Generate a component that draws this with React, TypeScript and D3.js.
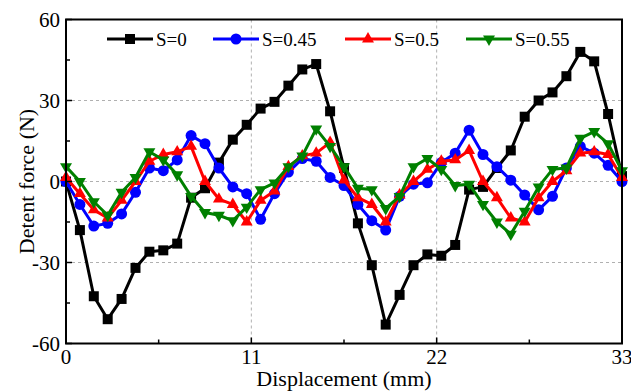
import React from 'react';
import * as d3 from 'd3';

// displacement step (mm) between samples, 41 samples over 0..33
const step = 0.825;
const sLabels = ['S=0', 'S=0.45', 'S=0.5', 'S=0.55'];
const sColors = ['#000000', '#0000ff', '#ff0000', '#008000'];
const sMarkers = ['square', 'circle', 'triangle', 'triangleDown'];

const s0 = [0, -18, -42.5, -51, -43.5, -32, -26, -25.5, -23, -6, -2.5, 7, 15.5, 21, 27, 29.5, 35.5, 41.5, 43.5, 26,
    5, -15.5, -31, -53, -42, -31, -27, -27.5, -23.5, -3, -2, 5, 11.5, 24, 30, 33, 39, 48, 44.5, 25, 2];
const s045 = [0, -8.5, -16.5, -15.5, -12, -4, 5, 4, 8, 17, 14, 5, -2, -4.5, -14, -4.5, 3.5, 8.5, 7.5, 1.5,
    -1.5, -8.5, -14.5, -18, -5.5, -1, -0.5, 7, 10.5, 19, 10, 5.5, 0.5, -5, -10.5, -5.5, 5, 13, 10.5, 6, 0];
const s05 = [1.5, -4.5, -10.5, -13.5, -7, 0, 7.5, 10, 11, 13, 0, -6.5, -8.5, -15, -7, -3.5, 5.5, 9.5, 10.5, 14.5,
    0.5, -6, -8.5, -15, -5, 0, 4.5, 7.5, 8, 11.5, 0, -6, -13.5, -15, -6, 0, 4, 10.5, 11, 10, 1.5];
const s055 = [5.5, 0, -7.5, -12.5, -4, 1.5, 11, 8, 2.5, -5.5, -11.5, -12.5, -14.5, -9.5, -3, -0.5, 5.5, 9.5, 19.5, 13,
    5.5, -2.5, -3, -10, -5.5, 5.5, 8.5, 4.5, -1.5, -1, -8.5, -15, -19.5, -11, -2, 4.5, 5, 16, 18.5, 14, 4];
const allSeries = [s0, s045, s05, s055];

const xTicks = [0, 11, 22, 33];
const xMinor = [5.5, 16.5, 27.5];
const yTicks = [-60, -30, 0, 30, 60];
const yMinor = [-45, -15, 15, 45];

const W = 631, H = 392;
const left = 66, right = 622, top = 19.5, bottom = 343.5;
const font = '"Liberation Serif", "Times New Roman", serif';

const x = d3.scaleLinear().domain([0, 33]).range([left, right]);
const y = d3.scaleLinear().domain([-60, 60]).range([bottom, top]);

function markerPath(kind: string) {
    if (kind === 'square') return d3.symbol(d3.symbolSquare, 100)()!;
    if (kind === 'circle') return d3.symbol(d3.symbolCircle, 95)()!;
    return d3.symbol(d3.symbolTriangle, 62)()!;
}

const Marker = ({ kind, cx, cy, color }: { kind: string; cx: number; cy: number; color: string }) => (
    <path
        d={markerPath(kind)}
        fill={color}
        transform={`translate(${cx},${cy})${kind === 'triangleDown' ? ' rotate(180)' : ''}`}
    />
);

export default function App() {
    const line = d3.line<number>()
        .x((_, i) => x(i * step))
        .y((d) => y(d));

    const legendX = [107, 213, 345, 466];
    const legendY = 39;

    return (
        <svg width={W} height={H} style={{ position: 'absolute', left: 0, top: 0, background: '#fff' }}>
            {/* dashed grid */}
            {xTicks.filter((t) => t > 0 && t < 33).map((t) => (
                <line key={'gx' + t} x1={x(t)} x2={x(t)} y1={top} y2={bottom} stroke="#b0b0b0" strokeDasharray="3,3" />
            ))}
            {yTicks.filter((t) => t > -60 && t < 60).map((t) => (
                <line key={'gy' + t} x1={left} x2={right} y1={y(t)} y2={y(t)} stroke="#b0b0b0" strokeDasharray="3,3" />
            ))}

            {/* series */}
            {allSeries.map((s, k) => (
                <g key={sLabels[k]}>
                    <path d={line(s)!} fill="none" stroke={sColors[k]} strokeWidth={3} strokeLinejoin="round" />
                    {s.map((v, i) => (
                        <Marker key={i} kind={sMarkers[k]} cx={x(i * step)} cy={y(v)} color={sColors[k]} />
                    ))}
                </g>
            ))}

            {/* frame */}
            <rect x={left} y={top} width={right - left} height={bottom - top} fill="none" stroke="#000" strokeWidth={2} />

            {/* ticks */}
            {xTicks.map((t) => (
                <line key={'tx' + t} x1={x(t)} x2={x(t)} y1={bottom} y2={bottom - 6} stroke="#000" strokeWidth={1.5} />
            ))}
            {xMinor.map((t) => (
                <line key={'mx' + t} x1={x(t)} x2={x(t)} y1={bottom} y2={bottom - 4} stroke="#000" strokeWidth={1.5} />
            ))}
            {yTicks.map((t) => (
                <line key={'ty' + t} x1={left} x2={left + 6} y1={y(t)} y2={y(t)} stroke="#000" strokeWidth={1.5} />
            ))}
            {yMinor.map((t) => (
                <line key={'my' + t} x1={left} x2={left + 4} y1={y(t)} y2={y(t)} stroke="#000" strokeWidth={1.5} />
            ))}

            {/* tick labels */}
            {xTicks.map((t) => (
                <text key={'lx' + t} x={x(t)} y={364} textAnchor="middle" fontFamily={font} fontSize={21}>{t}</text>
            ))}
            {yTicks.map((t) => (
                <text key={'ly' + t} x={60} y={y(t)} dy="0.35em" textAnchor="end" fontFamily={font} fontSize={21}>{t}</text>
            ))}

            {/* axis titles */}
            <text x={(left + right) / 2} y={386} textAnchor="middle" fontFamily={font} fontSize={22}>Displacement (mm)</text>
            <text transform={`translate(34,${(top + bottom) / 2}) rotate(-90)`} textAnchor="middle" fontFamily={font} fontSize={22}>
                Detent force (N)
            </text>

            {/* legend */}
            {sLabels.map((lab, k) => (
                <g key={'lg' + k}>
                    <line x1={legendX[k]} x2={legendX[k] + 46} y1={legendY} y2={legendY} stroke={sColors[k]} strokeWidth={3} />
                    <Marker kind={sMarkers[k]} cx={legendX[k] + 23} cy={legendY} color={sColors[k]} />
                    <text x={legendX[k] + 49} y={legendY} dy="0.35em" fontFamily={font} fontSize={19}>{lab}</text>
                </g>
            ))}
        </svg>
    );
}
